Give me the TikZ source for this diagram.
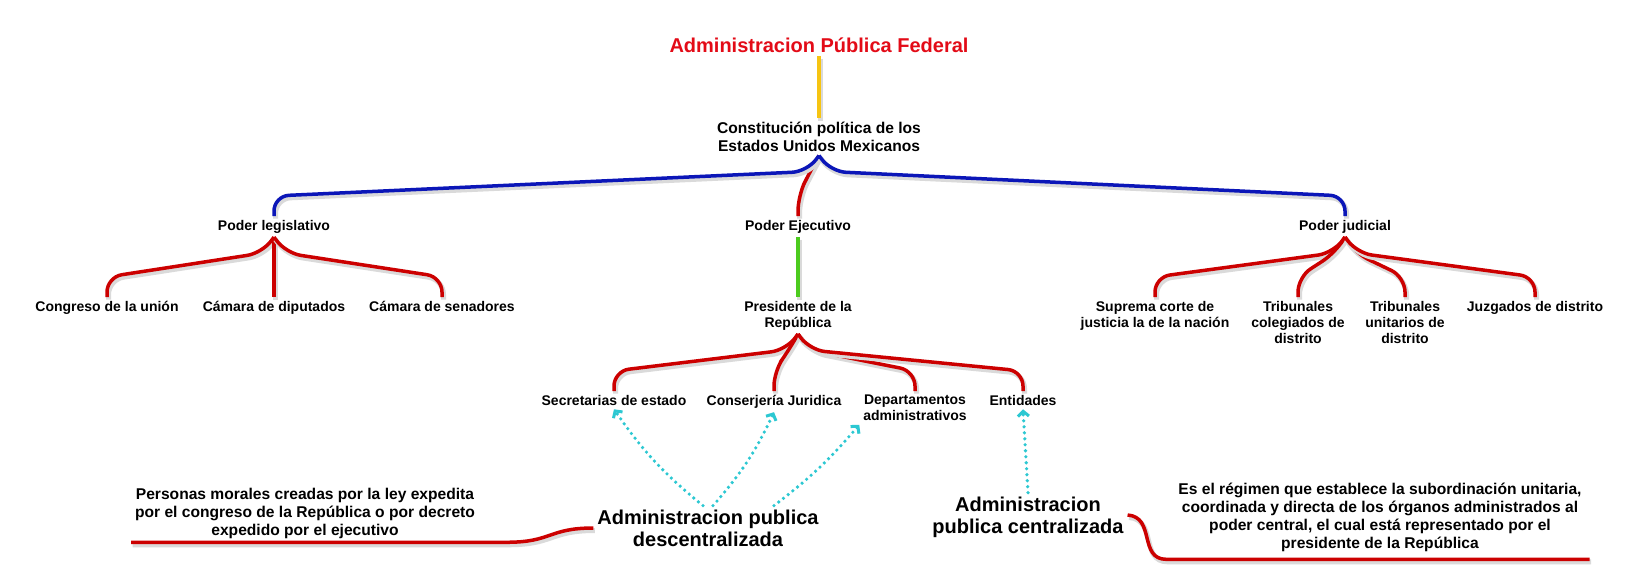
\documentclass[tikz,border=0pt]{standalone}
\usepackage{fontspec}
\setmainfont{Liberation Sans}
\usetikzlibrary{arrows.meta, calc}
\definecolor{apfRed}{HTML}{E30B17}
\definecolor{linkRed}{HTML}{CC0000}
\definecolor{linkBlue}{HTML}{0B16B8}
\definecolor{linkGreen}{HTML}{4CCB1E}
\definecolor{linkYellow}{HTML}{F6C412}
\definecolor{linkCyan}{HTML}{2CC8D2}
\definecolor{shadowGray}{HTML}{DADADA}
\tikzset{
  shadowL/.style={preaction={draw=shadowGray, line width=5pt,
                  transform canvas={xshift=1.5pt, yshift=-2.5pt}}},
  linkR/.style={shadowL, draw=linkRed, line width=3.5pt, rounded corners=15pt},
  linkB/.style={shadowL, draw=linkBlue, line width=3.5pt, rounded corners=15pt},
  linkG/.style={shadowL, draw=linkGreen, line width=3.5pt},
  linkY/.style={shadowL, draw=linkYellow, line width=3.5pt},
  arrowC/.style={-{Straight Barb[length=5pt, width=11pt, line width=3pt]}, draw=linkCyan,
                 line width=3.6pt, dash pattern=on 0pt off 6pt, line cap=round},
  boxT/.style={font=\bfseries\fontsize{20}{24}\selectfont, text=apfRed,
               inner sep=3pt, outer sep=1pt},
  boxS/.style={font=\bfseries\fontsize{14}{16}\selectfont, align=center,
               inner sep=3pt, outer sep=1pt},
  boxM/.style={font=\bfseries\fontsize{15.6}{18}\selectfont, align=center,
               inner sep=3pt, outer sep=1pt},
  boxL/.style={font=\bfseries\fontsize{20}{22}\selectfont, align=center,
               inner sep=3pt, outer sep=1pt},
}
\begin{document}
\begin{tikzpicture}[x=1pt, y=-1pt]
  \fill[white] (0,0) rectangle (1640,584);
  \useasboundingbox (0,0) rectangle (1640,584);

  \node[boxT] (apf) at (819,45) {Administracion Pública Federal};
  \node[boxM, anchor=north] (cpe) at (819,118) {Constitución política de los\\Estados Unidos Mexicanos};

  \node[boxS, anchor=north] (leg) at (274,216) {Poder legislativo};
  \node[boxS, anchor=north] (eje) at (798,216) {Poder Ejecutivo};
  \node[boxS, anchor=north] (jud) at (1345,216) {Poder judicial};

  \node[boxS, anchor=north] (cong) at (107,297) {Congreso de la unión};
  \node[boxS, anchor=north] (dip) at (274,297) {Cámara de diputados};
  \node[boxS, anchor=north] (sen) at (442,297) {Cámara de senadores};

  \node[boxS, anchor=north] (pres) at (798,297) {Presidente de la\\República};

  \node[boxS, anchor=north] (supr) at (1155,297) {Suprema corte de\\justicia la de la nación};
  \node[boxS, anchor=north] (tcol) at (1298,297) {Tribunales\\colegiados de\\distrito};
  \node[boxS, anchor=north] (tuni) at (1405,297) {Tribunales\\unitarios de\\distrito};
  \node[boxS, anchor=north] (juz) at (1535,297) {Juzgados de distrito};

  \node[boxS, anchor=north] (sec) at (614,391) {Secretarias de estado};
  \node[boxS, anchor=north] (conj) at (774,391) {Conserjería Juridica};
  \node[boxS, anchor=north] (dep) at (915,391) {Departamentos\\administrativos};
  \node[boxS, anchor=north] (ent) at (1023,391) {Entidades};

  \node[boxL] (desc) at (708,528) {Administracion publica\\descentralizada};
  \node[boxL] (centr) at (1028,517) {Administracion\\publica centralizada};
  \node[boxM] (pm) at (305,513) {Personas morales creadas por la ley expedita\\por el congreso de la República o por decreto\\expedido por el ejecutivo};
  \node[boxM] (reg) at (1380,517) {Es el régimen que establece la subordinación unitaria,\\coordinada y directa de los órganos administrados al\\poder central, el cual está representado por el\\presidente de la República};

  \draw[linkY] (apf) -- (cpe);
  \draw[linkR] (cpe.south) -- ++(-9,16) -- ([yshift=20pt]eje.north) -- (eje.north);
  \draw[linkB] (cpe.south) -- ++(-12,16) -- ([yshift=20pt]leg.north) -- (leg.north);
  \draw[linkB] (cpe.south) -- ++(12,16) -- ([yshift=20pt]jud.north) -- (jud.north);

  \draw[linkR] (leg.south) -- ++(-12,16) -- ([yshift=20pt]cong.north) -- (cong.north);
  \draw[linkR] (leg.south) -- (dip.north);
  \draw[linkR] (leg.south) -- ++(12,16) -- ([yshift=20pt]sen.north) -- (sen.north);

  \draw[linkG] (eje) -- (pres);

  \draw[linkR] (jud.south) -- ++(-12,16) -- ([yshift=20pt]supr.north) -- (supr.north);
  \draw[linkR] (jud.south) -- ++(-10,16) -- ([yshift=20pt]tcol.north) -- (tcol.north);
  \draw[linkR] (jud.south) -- ++(10,16) -- ([yshift=20pt]tuni.north) -- (tuni.north);
  \draw[linkR] (jud.south) -- ++(12,16) -- ([yshift=20pt]juz.north) -- (juz.north);

  \draw[linkR] (pres.south) -- ++(-12,16) -- ([yshift=20pt]sec.north) -- (sec.north);
  \draw[linkR] (pres.south) -- ++(-9,16) -- ([yshift=20pt]conj.north) -- (conj.north);
  \draw[linkR] (pres.south) -- ++(12,16) -- ([yshift=20pt]dep.north) -- (dep.north);
  \draw[linkR] (pres.south) -- ++(12,16) -- ([yshift=20pt]ent.north) -- (ent.north);

  \draw[arrowC] ([xshift=-5pt]desc.north) to[bend left=8] (sec.south);
  \draw[arrowC] ([xshift=5pt]desc.north) to[bend right=8] (conj.south);
  \draw[arrowC] ([xshift=66pt]desc.north) to[bend right=6] (dep.south west);
  \draw[arrowC] (centr.north) -- (ent.south);

  \draw[linkR, sharp corners] (desc.west) .. controls +(-45,0) and +(45,0) .. ([xshift=28pt]pm.south east) -- (pm.south west);
  \draw[linkR, sharp corners] ([yshift=2pt]centr.east) .. controls +(28,2) and +(-28,0) .. ([xshift=-8pt,yshift=-4pt]reg.south west) -- ([xshift=4pt,yshift=-4pt]reg.south east);
\end{tikzpicture}
\end{document}
